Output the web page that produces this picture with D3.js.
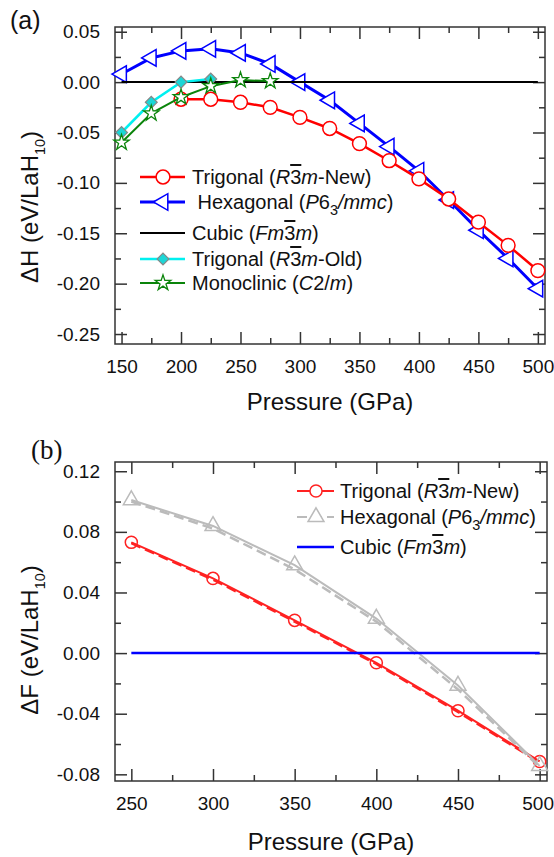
<!DOCTYPE html>
<html>
<head>
<meta charset="utf-8">
<script src="https://cdn.jsdelivr.net/npm/d3@7"></script>
<style>
  body { margin: 0; background: #fff; }
  svg { display: block; font-family: "Liberation Sans", Arial, sans-serif; }
</style>
</head>
<body>
<svg id="chart" width="554" height="857"></svg>
<script>
// ---- panel (a): enthalpy difference vs pressure ----
const pressA = [150, 175, 200, 225, 250, 275, 300, 325, 350, 375, 400, 425, 450, 475, 500];
const trigNewP = [200, 225, 250, 275, 300, 325, 350, 375, 400, 425, 450, 475, 500];
const trigNewH = [-0.017, -0.017, -0.020, -0.025, -0.035, -0.046, -0.061, -0.078, -0.096, -0.116, -0.139, -0.162, -0.187];
const hexH = [0.008, 0.024, 0.031, 0.033, 0.029, 0.018, 0.000, -0.018, -0.041, -0.064, -0.088, -0.117, -0.147, -0.175, -0.205];
const cubicP = [150, 500];
const cubicH = [0, 0];
const trigOldP = [150, 175, 200, 225];
const trigOldH = [-0.050, -0.020, 0.000, 0.003];
const monoP = [150, 175, 200, 225, 250, 275];
const monoH = [-0.060, -0.031, -0.015, -0.004, 0.002, 0.001];

const xTicksA = [150, 200, 250, 300, 350, 400, 450, 500];
const xMinorA = [175, 225, 275, 325, 375, 425, 475];
const yTicksA = [-0.25, -0.20, -0.15, -0.10, -0.05, 0.00, 0.05];
const yMinorA = [-0.225, -0.175, -0.125, -0.075, -0.025, 0.025];

// ---- panel (b): free energy difference vs pressure ----
const pressB = [250, 300, 350, 400, 450, 500];
const trigF = [0.0731, 0.0493, 0.0216, -0.0064, -0.0380, -0.0715];
const trigFFit = [0.0725, 0.0485, 0.0208, -0.0072, -0.0388, -0.0722];
const hexF = [0.1010, 0.0839, 0.0580, 0.0228, -0.0214, -0.0744];
const hexFFit = [0.1000, 0.0822, 0.0552, 0.0208, -0.0240, -0.0752];
const cubicFP = [250, 500];
const cubicF = [0, 0];

const xTicksB = [250, 300, 350, 400, 450, 500];
const xMinorB = [275, 325, 375, 425, 475];
const yTicksB = [-0.08, -0.04, 0.00, 0.04, 0.08, 0.12];
const yMinorB = [-0.06, -0.02, 0.02, 0.06, 0.10];

// legend labels: plain strings or [text, style]  (i italic, o overline, s subscript)
const legendA = [
  ["Trigonal (", ["R", "i"], ["3", "o"], ["m", "i"], "-New)"],
  [" Hexagonal (", ["P", "i"], "6", ["3", "s"], ["/mmc", "i"], ")"],
  ["Cubic (", ["Fm", "i"], ["3", "o"], ["m", "i"], ")"],
  ["Trigonal (", ["R", "i"], ["3", "o"], ["m", "i"], "-Old)"],
  ["Monoclinic (", ["C", "i"], "2/", ["m", "i"], ")"]
];
const legendB = [
  ["Trigonal (", ["R", "i"], ["3", "o"], ["m", "i"], "-New)"],
  ["Hexagonal (", ["P", "i"], "6", ["3", "s"], ["/mmc", "i"], ")"],
  ["Cubic (", ["Fm", "i"], ["3", "o"], ["m", "i"], ")"]
];

const svg = d3.select("#chart");
svg.append("rect").attr("width", 554).attr("height", 857).attr("fill", "#fff");

const AX = "#333";
const fmt2 = d => (Math.abs(d) < 1e-9 ? 0 : d).toFixed(2);

function richText(sel, parts, size, subScale) {
  let shift = 0;
  parts.forEach(p => {
    const [t, s] = Array.isArray(p) ? p : [p, ""];
    const ts = sel.append("tspan").text(t);
    if (s.includes("i")) ts.attr("font-style", "italic");
    if (s.includes("o")) ts.style("text-decoration", "overline");
    const want = s.includes("s") ? size * 0.3 : 0;
    if (want !== shift) { ts.attr("dy", want - shift); shift = want; }
    if (s.includes("s")) ts.attr("font-size", size * (subScale || 0.72));
  });
}

function makePanel(o) {
  const g = svg.append("g");
  const x = d3.scaleLinear().domain(o.xDom).range([o.left, o.right]);
  const y = d3.scaleLinear().domain(o.yDom).range([o.bottom, o.top]);

  const ax = g.append("g");
  const put = (axis, tx, ty) => ax.append("g").attr("transform", `translate(${tx},${ty})`).call(axis);

  const bottomLabels = put(d3.axisBottom(x).tickValues(o.xTicks).tickSize(-12).tickSizeOuter(0).tickPadding(16).tickFormat(d3.format("d")), 0, o.bottom);
  put(d3.axisBottom(x).tickValues(o.xMinor).tickSize(-6).tickSizeOuter(0).tickFormat(""), 0, o.bottom);
  put(d3.axisTop(x).tickValues(o.xTicks).tickSize(-12).tickSizeOuter(0).tickFormat(""), 0, o.top);
  put(d3.axisTop(x).tickValues(o.xMinor).tickSize(-6).tickSizeOuter(0).tickFormat(""), 0, o.top);
  put(d3.axisLeft(y).tickValues(o.yTicks).tickSize(-12).tickSizeOuter(0).tickPadding(15).tickFormat(fmt2), o.left, 0);
  put(d3.axisLeft(y).tickValues(o.yMinor).tickSize(-6).tickSizeOuter(0).tickFormat(""), o.left, 0);
  put(d3.axisRight(y).tickValues(o.yTicks).tickSize(-12).tickSizeOuter(0).tickFormat(""), o.right, 0);
  put(d3.axisRight(y).tickValues(o.yMinor).tickSize(-6).tickSizeOuter(0).tickFormat(""), o.right, 0);

  ax.selectAll(".domain").remove();
  ax.selectAll("line").attr("stroke", AX).attr("stroke-width", 1.5);
  ax.selectAll("text").attr("font-size", 19).attr("fill", "#111")
    .attr("font-family", "Liberation Sans, Arial, sans-serif");
  // keep the last x label inside the page edge
  if (o.lastLabelShift) bottomLabels.selectAll("text").filter((d, i, n) => i === n.length - 1).attr("dx", o.lastLabelShift);

  g.append("rect")
    .attr("x", o.left).attr("y", o.top)
    .attr("width", o.right - o.left).attr("height", o.bottom - o.top)
    .attr("fill", "none").attr("stroke", AX).attr("stroke-width", 1.5);

  return { g, x, y };
}

function drawSeries(p, P, V, st) {
  const line = d3.line().x((d, i) => p.x(P[i])).y(d => p.y(d));
  p.g.append("path").datum(V)
    .attr("d", line).attr("fill", "none")
    .attr("stroke", st.color).attr("stroke-width", st.width)
    .attr("stroke-dasharray", st.dash || null);
  if (st.symbol) {
    p.g.append("g").selectAll("path").data(V).join("path")
      .attr("transform", (d, i) => `translate(${p.x(P[i])},${p.y(d)}) rotate(${st.rot || 0})`)
      .attr("d", d3.symbol(st.symbol, st.size))
      .attr("fill", st.fill).attr("stroke", st.mstroke || st.color).attr("stroke-width", st.mwidth || 1.5);
  }
}

function drawLegend(p, items, labels, cfg) {
  items.forEach((st, i) => {
    const yy = cfg.rows[i];
    p.g.append("line")
      .attr("x1", cfg.x1).attr("x2", cfg.x2).attr("y1", yy).attr("y2", yy)
      .attr("stroke", st.color).attr("stroke-width", st.width)
      .attr("stroke-dasharray", st.legendDash || null);
    if (st.symbol) {
      p.g.append("path")
        .attr("transform", `translate(${cfg.xm},${yy}) rotate(${st.rot || 0})`)
        .attr("d", d3.symbol(st.symbol, st.size))
        .attr("fill", st.fill).attr("stroke", st.mstroke || st.color).attr("stroke-width", st.mwidth || 1.5);
    }
    const t = p.g.append("text")
      .attr("x", cfg.xt).attr("y", yy + 7)
      .attr("font-size", 20).attr("fill", "#111")
      .attr("xml:space", "preserve");
    richText(t, labels[i], 20);
  });
}

// ---------- panel (a) ----------
const pa = makePanel({
  left: 115, right: 545, top: 27, bottom: 344,
  xDom: [144.5, 506], yDom: [-0.2599, 0.0547],
  xTicks: xTicksA, xMinor: xMinorA, yTicks: yTicksA, yMinor: yMinorA
});

const stA = {
  red:   { color: "#ff0000", width: 2.5, symbol: d3.symbolCircle, size: 150, fill: "#fff" },
  blue:  { color: "#0000ff", width: 3, symbol: d3.symbolTriangle, size: 120, rot: -90, fill: "#fff" },
  black: { color: "#000", width: 2 },
  cyan:  { color: "#00f0f0", width: 2.5, symbol: d3.symbolSquare, size: 70, rot: 45, fill: "#1cd6d6", mstroke: "#888", mwidth: 1.2 },
  green: { color: "#0a840a", width: 2, symbol: d3.symbolStar, size: 75, fill: "#fff", mwidth: 1.3 }
};

drawSeries(pa, pressA, hexH, stA.blue);
drawSeries(pa, trigNewP, trigNewH, stA.red);
drawSeries(pa, cubicP, cubicH, stA.black);
drawSeries(pa, trigOldP, trigOldH, stA.cyan);
drawSeries(pa, monoP, monoH, stA.green);

drawLegend(pa, [stA.red, stA.blue, stA.black, stA.cyan, stA.green], legendA,
  { rows: [177, 202, 233, 259, 283], x1: 140, x2: 185, xm: 163, xt: 192 });

// ---------- panel (b) ----------
const pb = makePanel({
  left: 115, right: 547, top: 462, bottom: 781,
  xDom: [240, 504.5], yDom: [-0.0844, 0.1261],
  xTicks: xTicksB, xMinor: xMinorB, yTicks: yTicksB, yMinor: yMinorB,
  lastLabelShift: -2
});

const stB = {
  red:     { color: "#f22", width: 2, symbol: d3.symbolCircle, size: 115, fill: "none" },
  redFit:  { color: "#f22", width: 2.5, dash: "10,5" },
  gray:    { color: "#bbb", width: 2, symbol: d3.symbolTriangle, size: 110, fill: "none", legendDash: "10,5" },
  grayFit: { color: "#bbb", width: 2.5, dash: "10,5" },
  blue:    { color: "#0000ff", width: 2.5 }
};

drawSeries(pb, pressB, trigFFit, stB.redFit);
drawSeries(pb, pressB, trigF, stB.red);
drawSeries(pb, pressB, hexFFit, stB.grayFit);
drawSeries(pb, pressB, hexF, stB.gray);
drawSeries(pb, cubicFP, cubicF, stB.blue);

drawLegend(pb, [Object.assign({}, stB.red, { fill: "#fff" }), Object.assign({}, stB.gray, { fill: "#fff" }), stB.blue], legendB,
  { rows: [491, 517, 547], x1: 297, x2: 334, xm: 316, xt: 340 });

// ---------- titles ----------
svg.append("text").attr("x", 10).attr("y", 29).attr("font-size", 25).attr("fill", "#111").text("(a)");
svg.append("text").attr("x", 31).attr("y", 459).attr("font-size", 27).attr("fill", "#111")
  .attr("font-family", "Liberation Serif, Times New Roman, serif").text("(b)");

[[330, 410], [331, 850]].forEach(([cx, by]) => {
  svg.append("text").attr("x", cx).attr("y", by).attr("text-anchor", "middle")
    .attr("font-size", 24).attr("fill", "#111").text("Pressure (GPa)");
});

[[207, "\u0394H (eV/LaH"], [640, "\u0394F (eV/LaH"]].forEach(([cy, lab]) => {
  const t = svg.append("text")
    .attr("transform", `translate(38,${cy}) rotate(-90)`)
    .attr("text-anchor", "middle").attr("font-size", 24).attr("fill", "#111");
  richText(t, [lab, ["10", "s"], ")"], 24, 0.6);
});
</script>
</body>
</html>
